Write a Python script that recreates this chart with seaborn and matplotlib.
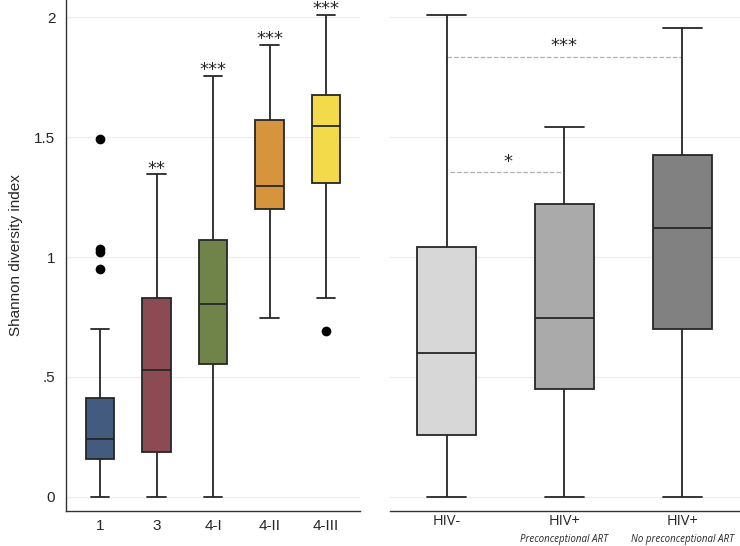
import numpy as np
import pandas as pd
import matplotlib.pyplot as plt
import matplotlib.transforms as mtrans
import seaborn as sns

# Resumen de cinco números por grupo: min, Q1, mediana, Q3, max (bigotes)
cst_groups = ["1", "3", "4-I", "4-II", "4-III"]
cst_min = [0.0, 0.0, 0.0, 0.746, 0.828]
cst_q1 = [0.156, 0.185, 0.554, 1.200, 1.310]
cst_med = [0.239, 0.529, 0.804, 1.295, 1.548]
cst_q3 = [0.413, 0.828, 1.072, 1.572, 1.676]
cst_max = [0.701, 1.346, 1.756, 1.886, 2.010]
cst_colors = ["#445b80", "#8c4a52", "#708449", "#d6953d", "#f3da4a"]
cst_stars = ["", "**", "***", "***", "***"]

# valores atípicos
out_group = ["1", "1", "1", "1", "4-III"]
out_value = [1.494, 1.032, 1.022, 0.949, 0.691]

hiv_groups = ["HIV-", "HIV+ pre", "HIV+ no"]
hiv_labels = ["HIV-", "HIV+", "HIV+"]
hiv_sublabels = ["", "Preconceptional ART", "No preconceptional ART"]
hiv_min = [0.0, 0.0, 0.0]
hiv_q1 = [0.257, 0.451, 0.700]
hiv_med = [0.601, 0.746, 1.122]
hiv_q3 = [1.043, 1.222, 1.427]
hiv_max = [2.010, 1.544, 1.957]
hiv_colors = ["#d7d7d7", "#aaaaaa", "#818181"]

# comparaciones: (desde, hasta, altura, etiqueta)
sig_from = [0, 0.03]
sig_to = [2, 1]
sig_y = [1.835, 1.353]
sig_label = ["***", "*"]
sig_label_x = [1, 0.52]


def five_number_frame(groups, mins, q1s, meds, q3s, maxs):
    rows = []
    for g, a, b, c, d, e in zip(groups, mins, q1s, meds, q3s, maxs):
        for v in (a, b, c, d, e):
            rows.append({"group": g, "value": v})
    return pd.DataFrame(rows)


def main():
    sns.set_style("white")
    plt.rcParams["font.family"] = ["Liberation Sans", "DejaVu Sans"]

    fig = plt.figure(figsize=(7.4, 5.46), dpi=100)
    ax1 = fig.add_axes([0.0888, 0.0647, 0.3977, 0.9353])
    ax2 = fig.add_axes([0.527, 0.0647, 0.473, 0.9353])

    ylim = (-0.058, 2.072)
    grid_kw = dict(color="#e9efef", linewidth=0.9, zorder=0)
    star_kw = dict(ha="center", va="center", fontsize=13,
                   family=["DejaVu Sans"], annotation_clip=False)

    # Panel izquierdo
    df1 = five_number_frame(cst_groups, cst_min, cst_q1, cst_med, cst_q3, cst_max)
    for t in [0, 0.5, 1, 1.5, 2]:
        ax1.axhline(t, **grid_kw)
        ax2.axhline(t, **grid_kw)
    sns.boxplot(data=df1, x="group", y="value", hue="group", order=cst_groups,
                palette=cst_colors, saturation=1, legend=False, whis=(0, 100),
                width=0.5, capwidths=0.33, linecolor="#262626", linewidth=1.3,
                ax=ax1)
    df_out = pd.DataFrame({"group": out_group, "value": out_value})
    sns.stripplot(data=df_out, x="group", y="value", order=cst_groups,
                  jitter=False, color="black", size=7, ax=ax1, zorder=5)
    for i, (top, s) in enumerate(zip(cst_max, cst_stars)):
        if s:
            ax1.annotate(s, (i, top), xytext=(0, 4), textcoords="offset points",
                         **star_kw)

    ax1.set_xlim(-0.607, 4.6)
    ax1.set_ylim(*ylim)
    ax1.set_yticks([0, 0.5, 1, 1.5, 2])
    ax1.set_yticklabels(["0", ".5", "1", "1.5", "2"])
    ax1.set_xlabel("")
    ax1.set_ylabel("Shannon diversity index", fontsize=11, labelpad=8)
    ax1.tick_params(axis="y", length=4, width=0.8, labelsize=11, color="#333333")
    ax1.tick_params(axis="x", length=0, labelsize=11, pad=6)
    for side in ["top", "right"]:
        ax1.spines[side].set_visible(False)
    for side in ["left", "bottom"]:
        ax1.spines[side].set_color("#333333")
        ax1.spines[side].set_linewidth(1.0)

    # Panel derecho
    df2 = five_number_frame(hiv_groups, hiv_min, hiv_q1, hiv_med, hiv_q3, hiv_max)
    sns.boxplot(data=df2, x="group", y="value", hue="group", order=hiv_groups,
                palette=hiv_colors, saturation=1, legend=False, whis=(0, 100),
                width=0.5, capwidths=0.33, linecolor="#262626", linewidth=1.3,
                ax=ax2)
    for x0, x1, y, lab, lx in zip(sig_from, sig_to, sig_y, sig_label, sig_label_x):
        ax2.plot([x0, x1], [y, y], linestyle="--", color="#b0b0b0",
                 linewidth=0.9, zorder=1)
        ax2.annotate(lab, (lx, y), xytext=(0, 7.5), textcoords="offset points",
                     **star_kw)

    ax2.set_xlim(-0.48, 2.49)
    ax2.set_ylim(*ylim)
    ax2.set_yticks([])
    ax2.set_xlabel("")
    ax2.set_ylabel("")
    ax2.set_xticks(range(len(hiv_groups)))
    ax2.set_xticklabels(hiv_labels, fontsize=10.5, family=["Open Sans", "DejaVu Sans"])
    ax2.tick_params(axis="x", length=0, pad=2.5)
    for side in ["top", "right", "left"]:
        ax2.spines[side].set_visible(False)
    ax2.spines["bottom"].set_color("#333333")
    ax2.spines["bottom"].set_linewidth(1.0)

    trans = mtrans.offset_copy(ax2.get_xaxis_transform(), fig=fig, y=-20.8, units="points")
    for i, sub in enumerate(hiv_sublabels):
        if sub:
            ax2.text(i, 0, sub, transform=trans, ha="center", va="center",
                     fontsize=7, style="italic", family=["Open Sans", "DejaVu Sans"])

    fig.savefig("out.png", dpi=100)
    plt.close(fig)


if __name__ == "__main__":
    main()
